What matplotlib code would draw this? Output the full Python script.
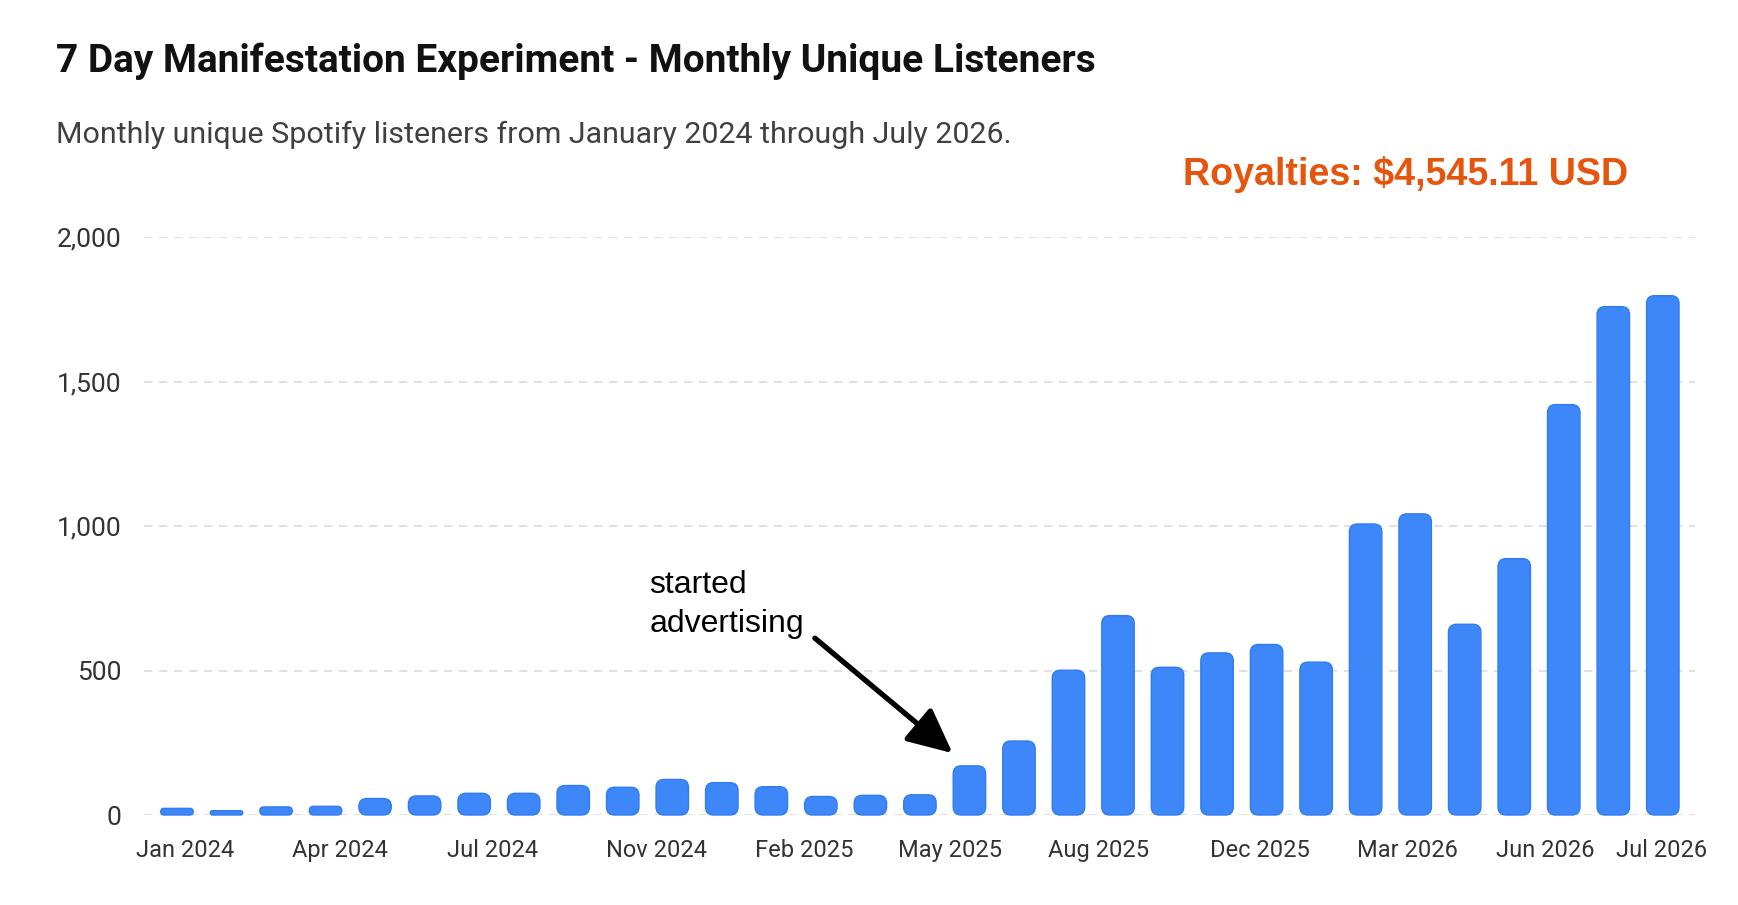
import matplotlib
matplotlib.use("Agg")
import matplotlib.pyplot as plt
from matplotlib.patches import FancyBboxPatch
from matplotlib.ticker import FuncFormatter

# ---------------- data ----------------
months = ["Jan 2024", "Feb 2024", "Mar 2024", "Apr 2024", "May 2024", "Jun 2024",
          "Jul 2024", "Aug 2024", "Sep 2024", "Oct 2024", "Nov 2024", "Dec 2024",
          "Jan 2025", "Feb 2025", "Mar 2025", "Apr 2025", "May 2025", "Jun 2025",
          "Jul 2025", "Aug 2025", "Sep 2025", "Oct 2025", "Nov 2025", "Dec 2025",
          "Jan 2026", "Feb 2026", "Mar 2026", "Apr 2026", "May 2026", "Jun 2026",
          "Jul 2026"]
listeners = [23, 15, 28, 30, 57, 66, 75, 75, 102, 96, 123, 112, 98, 64, 68, 70,
             170, 256, 501, 690, 511, 561, 590, 529, 1007, 1042, 660, 887, 1420,
             1759, 1797]
tick_labels = ["Jan 2024", "Apr 2024", "Jul 2024", "Nov 2024", "Feb 2025", "May 2025",
               "Aug 2025", "Dec 2025", "Mar 2026", "Jun 2026", "Jul 2026"]
y_ticks = [0, 500, 1000, 1500, 2000]
title = "7 Day Manifestation Experiment - Monthly Unique Listeners"
subtitle = "Monthly unique Spotify listeners from January 2024 through July 2026."
royalties = "Royalties: $4,545.11 USD"
annotation_month = "May 2025"
annotation_lines = ["started", "advertising"]

# ---------------- layout ----------------
W, H = 1738, 905
fig = plt.figure(figsize=(W / 100, H / 100), dpi=100)
fig.patch.set_facecolor("white")

ax_left, ax_right, ax_top, ax_bot = 144, 1695, 237, 815
ax = fig.add_axes([ax_left / W, 1 - ax_bot / H, (ax_right - ax_left) / W, (ax_bot - ax_top) / H])
ax.set_facecolor("white")

# tick label positions as they appear in the reference (index units)
tick_pos = [0.16, 3.29, 6.38, 9.69, 12.67, 15.6, 18.6, 21.86, 24.84, 27.63, 29.97]

x = list(range(len(months)))
ax.set_xlim(-0.666, 30.65)
ax.set_ylim(0, 2000)

SANS = ["Roboto", "DejaVu Sans"]
ARIAL = ["Liberation Sans", "DejaVu Sans"]

# grid
ax.set_yticks(y_ticks)
ax.yaxis.set_major_formatter(FuncFormatter(lambda v, p: f"{int(v):,}"))
ax.grid(axis="y", color="#dcdcdc", linewidth=1.2, linestyle=(0, (5, 4)))
ax.set_axisbelow(True)
for s in ax.spines.values():
    s.set_visible(False)

ax.set_xticks(tick_pos)
ax.set_xticklabels(tick_labels)
ax.tick_params(axis="x", length=0, pad=17, labelsize=17, labelcolor="#333333")
ax.tick_params(axis="y", length=0, pad=16.5, labelsize=19, labelcolor="#333333")
for lab in ax.get_xticklabels() + ax.get_yticklabels():
    lab.set_family(SANS)

# bars with rounded corners
bar_color = "#3d87f8"
edge_color = "#2f7cf2"
bars = ax.bar(x, listeners, width=0.655, color=bar_color)
t0 = ax.transData.transform((0, 0))
px_per_x = ax.transData.transform((1, 0))[0] - t0[0]
px_per_y = ax.transData.transform((0, 1))[1] - t0[1]
aspect = px_per_x / px_per_y
r_base = 8.0 / px_per_x
for rect in bars:
    bx, bw, bh = rect.get_x(), rect.get_width(), rect.get_height()
    r = min(r_base, bw / 2, (bh / aspect) / 2)
    p = FancyBboxPatch((bx, 0), bw, bh,
                       boxstyle=f"round,pad=0,rounding_size={r}",
                       mutation_aspect=aspect, facecolor=bar_color,
                       edgecolor=edge_color, linewidth=1.0, clip_on=False, zorder=3)
    ax.add_patch(p)
    rect.set_visible(False)

# annotation
ai = months.index(annotation_month)
ay = listeners[ai]
ax.annotate("", xy=(ai - 0.34, ay + 44), xytext=(ai - 3.12, ay + 442),
            arrowprops=dict(arrowstyle="-|>,head_length=1.05,head_width=0.5",
                            lw=3.8, color="black", mutation_scale=26,
                            shrinkA=0, shrinkB=0), zorder=5)
ax.text(ai - 6.46, ay + 598, annotation_lines[0], fontsize=23, family=ARIAL,
        color="black", va="baseline", ha="left")
ax.text(ai - 6.46, ay + 463, annotation_lines[1], fontsize=23, family=ARIAL,
        color="black", va="baseline", ha="left")

# titles
renderer = fig.canvas.get_renderer()

def fit(t, target):
    w = t.get_window_extent(renderer).width
    t.set_fontsize(t.get_fontsize() * target / w)

t1 = fig.text(56 / W, 1 - 72 / H, title, fontsize=26, fontweight="bold",
              family=SANS, color="#111111", va="baseline", ha="left")
fit(t1, 1040)
t2 = fig.text(56 / W, 1 - 143 / H, subtitle, fontsize=20, family=SANS,
              color="#404040", va="baseline", ha="left")
fit(t2, 955)
t3 = fig.text(1183 / W, 1 - 185 / H, royalties, fontsize=27, fontweight="bold",
              family=ARIAL, color="#e6550d", va="baseline", ha="left")
fit(t3, 445)

fig.savefig("out.png", dpi=100, facecolor="white")
